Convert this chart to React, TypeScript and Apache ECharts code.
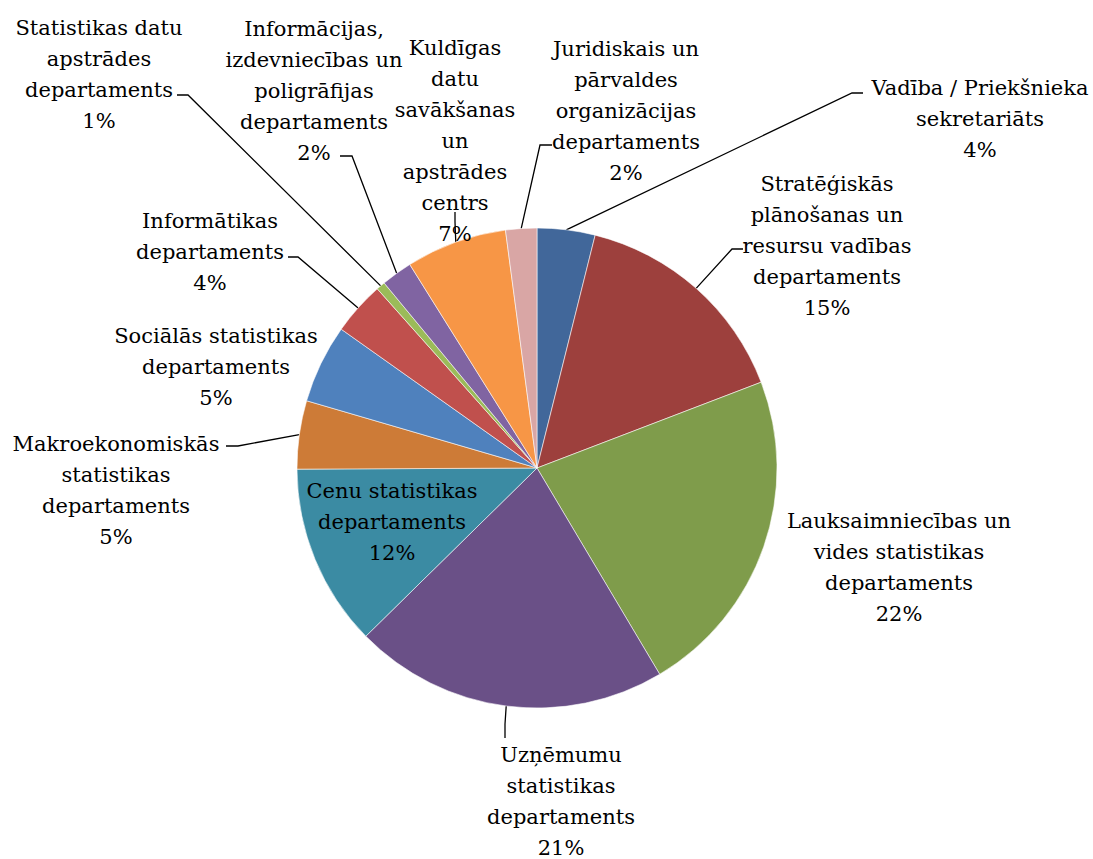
import React, { useEffect, useRef } from "react";
import * as echarts from "echarts";

// Department names (wrapped as in the reference) and their shares of the pie
const categories = [
  "Vadība / Priekšnieka\nsekretariāts",
  "Stratēģiskās\nplānošanas un\nresursu vadības\ndepartaments",
  "Lauksaimniecības un\nvides statistikas\ndepartaments",
  "Uzņēmumu\nstatistikas\ndepartaments",
  "Cenu statistikas\ndepartaments",
  "Makroekonomiskās\nstatistikas\ndepartaments",
  "Sociālās statistikas\ndepartaments",
  "Informātikas\ndepartaments",
  "Statistikas datu\napstrādes\ndepartaments",
  "Informācijas,\nizdevniecības un\npoligrāfijas\ndepartaments",
  "Kuldīgas\ndatu\nsavākšanas\nun\napstrādes\ncentrs",
  "Juridiskais un\npārvaldes\norganizācijas\ndepartaments",
];
const shares = [3.9, 15.3, 22.3, 21.2, 12.3, 4.6, 5.3, 3.6, 0.6, 2.1, 6.8, 2.1];
const sliceColors = [
  "#41679A",
  "#9D403D",
  "#7F9C4B",
  "#6A5087",
  "#3B8BA3",
  "#CD7B37",
  "#4F81BD",
  "#C0504D",
  "#9BBB59",
  "#8064A2",
  "#F79646",
  "#D9A6A5",
];

// Label placement (layout only): centre x, top y of text block, leader line bends
const LABEL_POS: { x: number; y: number; line?: number[][] }[] = [
  { x: 980, y: 72, line: [[852, 93], [863, 93]] },
  { x: 827, y: 168, line: [[732, 249], [743, 249]] },
  { x: 899, y: 505 },
  { x: 561, y: 739, line: [[505, 724], [505, 738]] },
  { x: 392, y: 475 },
  { x: 116, y: 428, line: [[238, 446], [226, 446]] },
  { x: 216, y: 320 },
  { x: 210, y: 205, line: [[298, 257], [288, 257]] },
  { x: 99, y: 12, line: [[188, 95], [177, 95]] },
  { x: 314, y: 13, line: [[352, 156], [340, 156]] },
  { x: 455, y: 32, line: [[455, 222], [455, 212]] },
  { x: 626, y: 33, line: [[540, 145], [552, 145]] },
];
const NO_LINE = [2, 4, 6];
const SERIF = "DejaVu Serif";

export default function App() {
  const ref = useRef<HTMLDivElement>(null);
  useEffect(() => {
    if (!ref.current) return;
    const chart = echarts.init(ref.current, undefined, { renderer: "svg" });
    chart.setOption({
      animation: false,
      backgroundColor: "#ffffff",
      series: [
        {
          type: "pie",
          center: [537, 468],
          radius: 240,
          startAngle: 90,
          clockwise: true,
          percentPrecision: 0,
          avoidLabelOverlap: false,
          itemStyle: {
            borderColor: "rgba(255,255,255,0.7)",
            borderWidth: 0.8,
          },
          label: {
            show: true,
            formatter: "{b}\n{d}%",
            fontFamily: SERIF,
            fontSize: 21,
            lineHeight: 31,
            color: "#000",
            overflow: "none",
          },
          labelLine: {
            show: true,
            lineStyle: { color: "#000", width: 1.3 },
          },
          labelLayout: (params: any) => {
            const p = LABEL_POS[params.dataIndex];
            const start = params.labelLinePoints && params.labelLinePoints[0];
            const res: any = {
              x: p.x,
              y: p.y,
              align: "center",
              verticalAlign: "top",
            };
            if (p.line && start) {
              res.labelLinePoints = [start, ...p.line];
            }
            return res;
          },
          data: categories.map((name, i) => ({
            name,
            value: shares[i],
            itemStyle: { color: sliceColors[i] },
            labelLine: { show: !NO_LINE.includes(i) },
          })),
        },
      ],
    });
    return () => chart.dispose();
  }, []);
  return (
    <div
      ref={ref}
      style={{
        position: "absolute",
        left: 0,
        top: 0,
        width: 1093,
        height: 859,
        background: "#fff",
      }}
    />
  );
}
